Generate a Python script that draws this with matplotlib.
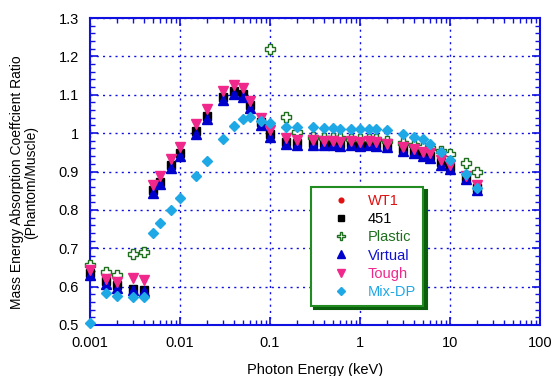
import numpy as np
import matplotlib
matplotlib.use("Agg")
import matplotlib.pyplot as plt
from matplotlib.ticker import FixedLocator, MultipleLocator, LogLocator, NullFormatter

plt.rcParams['font.family'] = ['Liberation Sans', 'DejaVu Sans']

energy = [0.001, 0.0015, 0.002, 0.003, 0.004, 0.005, 0.006, 0.008, 0.01, 0.015,
          0.02, 0.03, 0.04, 0.05, 0.06, 0.08, 0.1, 0.15, 0.2, 0.3, 0.4, 0.5, 0.6,
          0.8, 1, 1.25, 1.5, 2, 3, 4, 5, 6, 8, 10, 15, 20]

wt1 = [0.636, 0.616, 0.604, 0.596, 0.592, 0.853, 0.874, 0.918, 0.948, 1.007,
       1.046, 1.096, 1.111, 1.103, 1.074, 1.031, 1.000, 0.979, 0.976, 0.976, 0.974,
       0.974, 0.973, 0.974, 0.973, 0.974, 0.973, 0.968, 0.960, 0.953, 0.946, 0.941,
       0.925, 0.912, 0.885, 0.859]
s451 = [0.635, 0.615, 0.603, 0.595, 0.591, 0.852, 0.873, 0.917, 0.947, 1.006,
        1.045, 1.095, 1.110, 1.102, 1.073, 1.030, 0.999, 0.978, 0.975, 0.975, 0.973,
        0.973, 0.972, 0.973, 0.972, 0.973, 0.972, 0.967, 0.959, 0.952, 0.945, 0.940,
        0.924, 0.911, 0.884, 0.858]
plastic = [0.656, 0.637, 0.630, 0.684, 0.691, None, None, None, None, None,
           None, None, None, None, None, None, 1.218, 1.043, 1.004, 0.991, 0.987,
           0.987, 0.986, 0.985, 0.985, 0.985, 0.984, 0.979, 0.974, 0.970, 0.964, 0.962,
           0.954, 0.945, 0.921, 0.900]
virtual = [0.630, 0.608, 0.597, 0.590, 0.588, 0.844, 0.867, 0.909, 0.940, 0.998,
           1.037, 1.086, 1.102, 1.093, 1.065, 1.021, 0.991, 0.972, 0.969, 0.969, 0.968,
           0.968, 0.967, 0.968, 0.967, 0.968, 0.967, 0.963, 0.954, 0.947, 0.940, 0.934,
           0.917, 0.906, 0.880, 0.852]
tough = [0.643, 0.620, 0.613, 0.622, 0.617, 0.865, 0.888, 0.932, 0.963, 1.024,
         1.063, 1.111, 1.125, 1.117, 1.085, 1.039, 1.008, 0.986, 0.982, 0.982, 0.979,
         0.979, 0.978, 0.979, 0.978, 0.979, 0.978, 0.972, 0.965, 0.958, 0.952, 0.947,
         0.930, 0.917, 0.888, 0.865]
mixdp = [0.505, 0.583, 0.576, 0.573, 0.573, 0.740, 0.767, 0.800, 0.830, 0.888,
         0.928, 0.984, 1.019, 1.037, 1.041, 1.032, 1.026, 1.015, 1.015, 1.015, 1.014,
         1.013, 1.012, 1.012, 1.012, 1.012, 1.012, 1.008, 0.999, 0.991, 0.984, 0.972,
         0.950, 0.930, 0.893, 0.858]

labels = ["WT1", "451", "Plastic", "Virtual", "Tough", "Mix-DP"]
xticks = [0.001, 0.01, 0.1, 1, 10, 100]
xticklabels = ["0.001", "0.01", "0.1", "1", "10", "100"]
yticks = [0.5, 0.6, 0.7, 0.8, 0.9, 1.0, 1.1, 1.2, 1.3]
yticklabels = ["0.5", "0.6", "0.7", "0.8", "0.9", "1", "1.1", "1.2", "1.3"]

def arr(v):
    return np.array([np.nan if a is None else a for a in v], dtype=float)

fig = plt.figure(figsize=(5.51, 3.76), dpi=100)
ax = fig.add_axes([90/551, 51/376, 450/551, 307/376])

axis_blue = '#1010E0'
green = '#1E6E1E'
pink = '#F0288C'
sky = '#1EA8E6'

ax.set_xscale('log')
ax.set_xlim(0.001, 100)
ax.set_ylim(0.5, 1.3)

common = dict(linestyle='none', clip_on=False)
ax.plot(energy, arr(wt1), marker='o', ms=4, color='#E01010', mec='#E01010', label=labels[0], zorder=3, **common)
ax.plot(energy, arr(s451), marker='s', ms=5.5, color='black', mec='black', label=labels[1], zorder=3, **common)
ax.plot(energy, arr(plastic), marker='P', ms=7.5, mfc='white', mec=green, mew=1.0, label=labels[2], zorder=3, **common)
ax.plot(energy, arr(virtual), marker='^', ms=7, color='#0000CC', mec='#0000CC', label=labels[3], zorder=3, **common)
ax.plot(energy, arr(tough), marker='v', ms=7, color=pink, mec=pink, label=labels[4], zorder=3, **common)
ax.plot(energy, arr(mixdp), marker='D', ms=5, color=sky, mec=sky, label=labels[5], zorder=3, **common)

ax.xaxis.set_major_locator(FixedLocator(xticks))
ax.set_xticklabels(xticklabels)
ax.xaxis.set_minor_locator(LogLocator(base=10, subs=np.arange(2, 10)))
ax.xaxis.set_minor_formatter(NullFormatter())
ax.yaxis.set_major_locator(FixedLocator(yticks))
ax.set_yticklabels(yticklabels)
ax.yaxis.set_minor_locator(MultipleLocator(0.02))

ax.grid(True, which='major', color=axis_blue, linestyle=(0, (1.5, 3.0)), linewidth=1.0)
ax.set_axisbelow(True)

for sp in ax.spines.values():
    sp.set_color(axis_blue)
    sp.set_linewidth(1.5)
ax.tick_params(which='both', direction='in', top=True, right=True, color=axis_blue,
               labelsize=10.5, labelcolor='black')
ax.tick_params(which='major', length=6, width=1.2)
ax.tick_params(which='minor', length=3.5, width=1.0)
ax.tick_params(axis='x', pad=8)
ax.tick_params(axis='y', pad=8)

ax.set_xlabel("Photon Energy (keV)", fontsize=10.5, labelpad=9)
ax.set_ylabel("Mass Energy Absorption Coeffcient Ratio\n(Phantom/Muscle)", fontsize=10,
              linespacing=1.0)
ax.yaxis.set_label_coords(-0.115, 0.465)

leg = ax.legend(loc='upper left', bbox_to_anchor=(311/551, 1 - 187/376),
                bbox_transform=fig.transFigure, fontsize=10.5, frameon=True,
                fancybox=False, framealpha=1, edgecolor='#228B22',
                shadow={'facecolor': '#0B5E0B', 'edgecolor': '#0B5E0B', 'alpha': 1, 'ox': 2.5, 'oy': -2.5},
                handlelength=3.1, handletextpad=0.3, borderpad=0.5, labelspacing=0.28,
                borderaxespad=0, markerscale=0.85)
leg.get_frame().set_linewidth(1.5)
colors = ['#E01010', 'black', green, '#1010D0', pink, sky]
for t, c in zip(leg.get_texts(), colors):
    t.set_color(c)

fig.savefig("out.png", dpi=100)
